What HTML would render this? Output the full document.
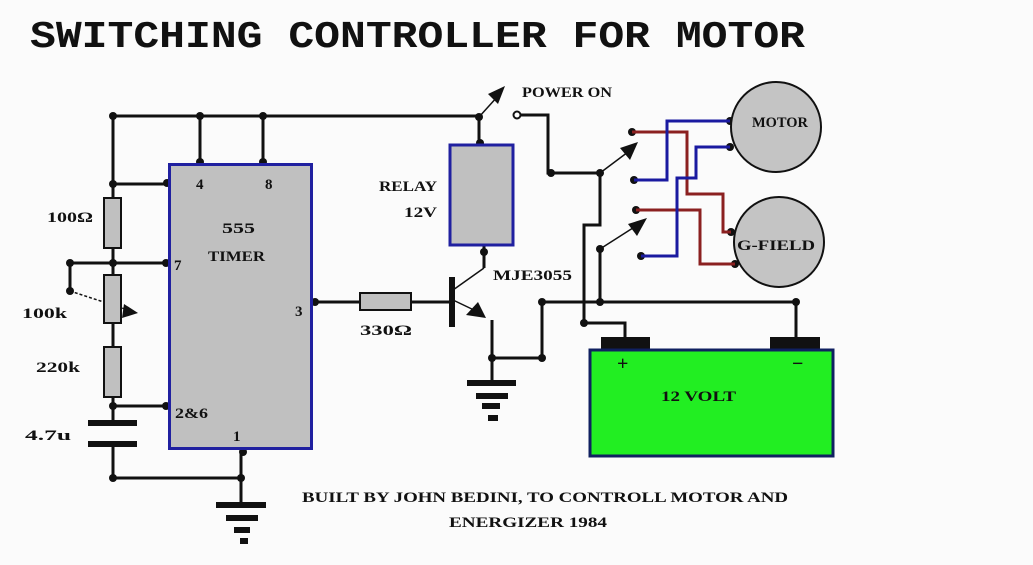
<!DOCTYPE html>
<html><head><meta charset="utf-8"><style>
html,body{margin:0;padding:0;background:#fbfbfb;}
svg{display:block}
text{font-family:"Liberation Serif",serif;font-weight:bold;fill:#111;}
</style></head><body>
<svg width="1033" height="565" viewBox="0 0 1033 565" xmlns="http://www.w3.org/2000/svg">
<rect width="1033" height="565" fill="#fbfbfb"/>
<text x="30" y="47" font-family="Liberation Mono" style="font-family:'Liberation Mono',monospace" font-size="38" textLength="775" lengthAdjust="spacingAndGlyphs">SWITCHING CONTROLLER FOR MOTOR</text>

<g stroke="#111" stroke-width="3" fill="none">
<!-- top rail -->
<polyline points="113,116 479,116"/>
<line x1="200" y1="116" x2="200" y2="164"/>
<line x1="263" y1="116" x2="263" y2="164"/>
<polyline points="113,116 113,198"/>
<line x1="113" y1="184" x2="169" y2="184"/>
<line x1="113" y1="248" x2="113" y2="275"/>
<line x1="70" y1="263" x2="169" y2="263"/>
<line x1="70" y1="263" x2="70" y2="291"/>
<line x1="113" y1="323" x2="113" y2="347"/>
<line x1="113" y1="397" x2="113" y2="423"/>
<line x1="113" y1="406" x2="169" y2="406"/>
<polyline points="113,444 113,478 241,478"/>
<line x1="241" y1="448" x2="241" y2="505"/>
<!-- output -->
<line x1="311" y1="302" x2="360" y2="302"/>
<line x1="411" y1="302" x2="451" y2="302"/>
<!-- relay -->
<line x1="479" y1="116" x2="479" y2="145"/>
<line x1="484" y1="245" x2="484" y2="268"/>
<polyline points="492,320 492,358 542,358 542,302 796,302 796,337"/>
<line x1="492" y1="358" x2="492" y2="383"/>
<!-- power switch wiring -->
<polyline points="517,115 548,115 548,173 600,173"/>
<polyline points="600,173 600,225 584,225 584,323 625,323 625,337"/>
<polyline points="600,249 600,302"/>
</g>
<g stroke="#111" stroke-width="1.5" fill="none">
<line x1="479" y1="117" x2="498" y2="96"/>
<line x1="600" y1="173" x2="628" y2="152"/>
<line x1="600" y1="249" x2="636" y2="226"/>
<line x1="453" y1="290" x2="484" y2="268"/>
<line x1="453" y1="300" x2="476" y2="311"/>
<line x1="70" y1="291" x2="128" y2="310" stroke-dasharray="3,2"/>
</g>
<g fill="#111">
<polygon points="505,86 488,94 498,104"/>
<polygon points="638,142 620,148 630,160"/>
<polygon points="647,218 628,224 637,236"/>
<polygon points="466,315 478,302 486,318"/>
<polygon points="138,313 124,304 122,318"/>
<rect x="449" y="277" width="6" height="50"/>
<!-- caps -->
<rect x="88" y="420" width="49" height="6"/>
<rect x="88" y="441" width="49" height="6"/>
<!-- grounds -->
<rect x="216" y="502" width="50" height="6"/><rect x="226" y="515" width="32" height="6"/><rect x="234" y="527" width="16" height="6"/><rect x="240" y="538" width="8" height="6"/>
<rect x="467" y="380" width="49" height="6"/><rect x="476" y="393" width="32" height="6"/><rect x="482" y="403" width="18" height="6"/><rect x="488" y="415" width="10" height="6"/>
<!-- dots -->
<circle cx="113" cy="116" r="4"/><circle cx="200" cy="116" r="4"/><circle cx="263" cy="116" r="4"/>
<circle cx="200" cy="162" r="4"/><circle cx="263" cy="162" r="4"/>
<circle cx="113" cy="184" r="4"/><circle cx="167" cy="183" r="4"/>
<circle cx="113" cy="263" r="4"/><circle cx="166" cy="263" r="4"/><circle cx="70" cy="263" r="4"/><circle cx="70" cy="291" r="4"/>
<circle cx="113" cy="406" r="4"/><circle cx="166" cy="406" r="4"/>
<circle cx="113" cy="478" r="4"/><circle cx="241" cy="478" r="4"/><circle cx="243" cy="452" r="4"/>
<circle cx="315" cy="302" r="4"/>
<circle cx="479" cy="117" r="4"/><circle cx="480" cy="143" r="4"/><circle cx="484" cy="252" r="4"/>
<circle cx="492" cy="358" r="4"/><circle cx="542" cy="358" r="4"/><circle cx="542" cy="302" r="4"/>
<circle cx="600" cy="302" r="4"/><circle cx="796" cy="302" r="4"/><circle cx="584" cy="323" r="4"/>
<circle cx="551" cy="173" r="4"/><circle cx="600" cy="173" r="4"/><circle cx="600" cy="249" r="4"/>
<circle cx="632" cy="132" r="4"/><circle cx="634" cy="180" r="4"/><circle cx="636" cy="210" r="4"/><circle cx="641" cy="256" r="4"/>
<circle cx="730" cy="121" r="4"/><circle cx="730" cy="147" r="4"/><circle cx="731" cy="232" r="4"/><circle cx="735" cy="264" r="4"/>
</g>
<circle cx="517" cy="115" r="3.5" fill="#fff" stroke="#111" stroke-width="2"/>

<!-- resistors -->
<g fill="#c0c0c0" stroke="#111" stroke-width="2">
<rect x="104" y="198" width="17" height="50"/>
<rect x="104" y="275" width="17" height="48"/>
<rect x="104" y="347" width="17" height="50"/>
<rect x="360" y="293" width="51" height="17"/>
</g>
<!-- 555 -->
<rect x="169.5" y="164.5" width="142" height="284" fill="#c0c0c0" stroke="#2020a0" stroke-width="3"/>
<rect x="450" y="145" width="63" height="100" fill="#c0c0c0" stroke="#2020a0" stroke-width="3"/>
<!-- motor circles -->
<circle cx="776" cy="127" r="45" fill="#c4c4c4" stroke="#111" stroke-width="2"/>
<circle cx="779" cy="242" r="45" fill="#c4c4c4" stroke="#111" stroke-width="2"/>
<!-- wires to motors -->
<g fill="none" stroke-width="3">
<polyline stroke="#8b2020" points="632,132 687,132 687,194 723,194 723,232 731,232"/>
<polyline stroke="#8b2020" points="636,210 700,210 700,264 735,264"/>
<polyline stroke="#1a1aa0" points="634,180 667,180 667,121 730,121"/>
<polyline stroke="#1a1aa0" points="641,256 677,256 677,178 696,178 696,147 730,147"/>
</g>
<!-- battery -->
<rect x="601" y="337" width="49" height="13" fill="#111"/>
<rect x="770" y="337" width="50" height="13" fill="#111"/>
<rect x="590" y="350" width="243" height="106" fill="#22ee22" stroke="#102060" stroke-width="3"/>

<g font-size="15">
<text x="522" y="97" textLength="90" lengthAdjust="spacingAndGlyphs">POWER ON</text>
<text x="379" y="191" textLength="58" lengthAdjust="spacingAndGlyphs">RELAY</text>
<text x="404" y="217" textLength="33" lengthAdjust="spacingAndGlyphs">12V</text>
<text x="493" y="280" textLength="79" lengthAdjust="spacingAndGlyphs">MJE3055</text>
<text x="360" y="335" textLength="52" lengthAdjust="spacingAndGlyphs">330Ω</text>
<text x="752" y="127" textLength="56" lengthAdjust="spacingAndGlyphs">MOTOR</text>
<text x="737" y="250" textLength="78" lengthAdjust="spacingAndGlyphs">G-FIELD</text>
<text x="661" y="401" textLength="75" lengthAdjust="spacingAndGlyphs" fill="#1a5a1a">12 VOLT</text>
<text x="222" y="233" textLength="33" lengthAdjust="spacingAndGlyphs">555</text>
<text x="208" y="261" textLength="57" lengthAdjust="spacingAndGlyphs">TIMER</text>
<text x="47" y="222" textLength="46" lengthAdjust="spacingAndGlyphs">100Ω</text>
<text x="22" y="318" textLength="45" lengthAdjust="spacingAndGlyphs">100k</text>
<text x="36" y="372" textLength="44" lengthAdjust="spacingAndGlyphs">220k</text>
<text x="25" y="440" textLength="46" lengthAdjust="spacingAndGlyphs">4.7u</text>
<text x="196" y="189">4</text>
<text x="265" y="189">8</text>
<text x="174" y="270">7</text>
<text x="295" y="316">3</text>
<text x="175" y="418" textLength="33" lengthAdjust="spacingAndGlyphs">2&amp;6</text>
<text x="233" y="441">1</text>
<text x="617" y="370" font-size="20">+</text>
<text x="792" y="370" font-size="20">−</text>
<text x="302" y="502" textLength="486" lengthAdjust="spacingAndGlyphs">BUILT BY JOHN BEDINI, TO CONTROLL MOTOR AND</text>
<text x="449" y="527" textLength="158" lengthAdjust="spacingAndGlyphs">ENERGIZER 1984</text>
</g>
</svg>
</body></html>
